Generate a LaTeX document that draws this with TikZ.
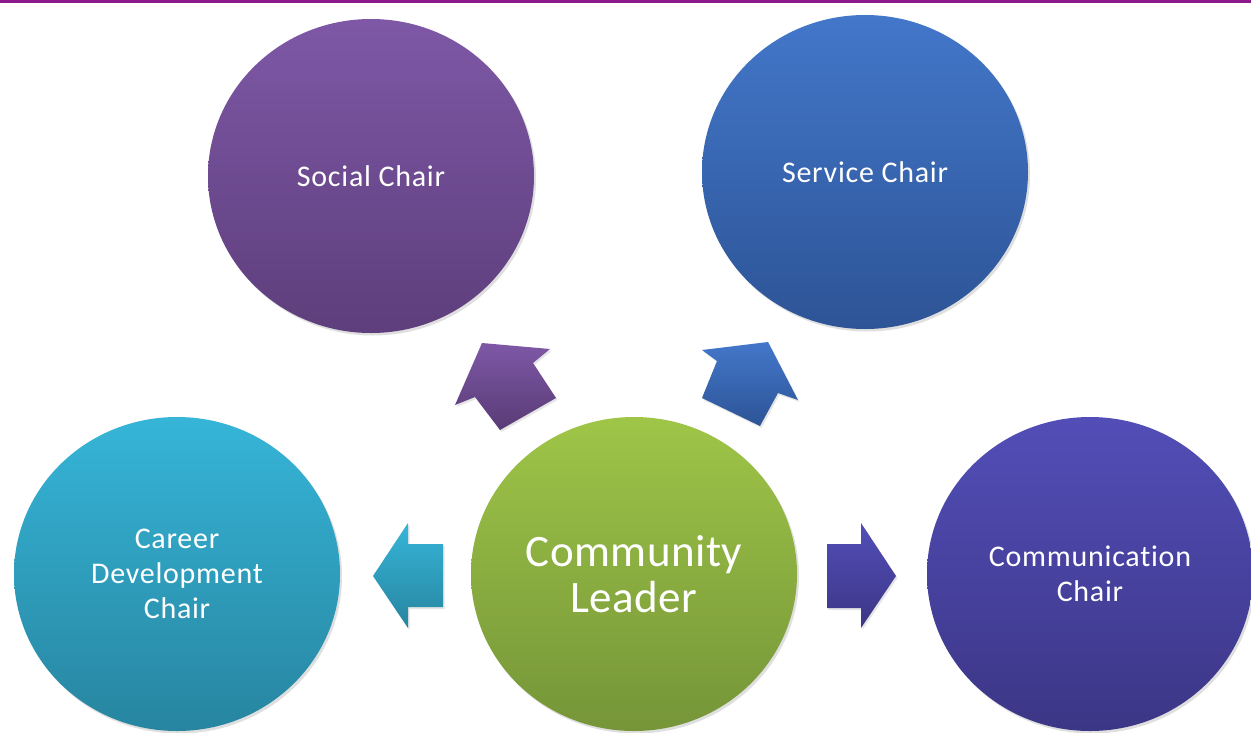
\documentclass[tikz,border=0pt]{standalone}
\usepackage{fontspec}
\usetikzlibrary{shapes.geometric,shadows}
\newfontfamily\lblfont[LetterSpace=2.5,Ligatures=NoCommon]{Carlito}
\newfontfamily\bigfont[LetterSpace=1,Ligatures=NoCommon]{Carlito}
\definecolor{topline}{RGB}{140,26,140}
\definecolor{socT}{RGB}{126,88,166}\definecolor{socB}{RGB}{94,62,124}
\definecolor{serT}{RGB}{67,119,202}\definecolor{serB}{RGB}{45,84,150}
\definecolor{carT}{RGB}{54,181,216}\definecolor{carB}{RGB}{39,133,160}
\definecolor{comT}{RGB}{159,197,72}\definecolor{comB}{RGB}{117,149,56}
\definecolor{cmnT}{RGB}{82,78,183}\definecolor{cmnB}{RGB}{60,54,134}
\tikzset{
  x=1pt,y=-1pt,
  circ/.style={ellipse, minimum width=326pt, minimum height=314pt, inner sep=0pt,
    align=center, text=white, font=\lblfont\fontsize{30}{35}\selectfont,
    drop shadow={shadow xshift=2pt,shadow yshift=-2.5pt,opacity=0.25}},
  blockarrow/.style={draw=none,
    drop shadow={shadow xshift=1.5pt,shadow yshift=-2pt,opacity=0.2}},
}
\begin{document}
\begin{tikzpicture}
\useasboundingbox (0,0) rectangle (1251,732);
\fill[white] (0,0) rectangle (1251,732);
\coordinate (lineL) at (0,1.5);
\coordinate (lineR) at (1251,1.5);
\draw[line width=2.5pt, topline] (lineL) -- (lineR);

\node[circ, top color=socT, bottom color=socB] (social) at (371,176) {Social Chair};
\node[circ, top color=serT, bottom color=serB] (service) at (865,172) {Service Chair};
\node[circ, top color=carT, bottom color=carB] (career) at (177,574) {Career\\Development\\Chair};
\node[circ, top color=comT, bottom color=comB, font=\bigfont\fontsize{45}{46}\selectfont] (leader) at (634,574) {Community\\Leader};
\node[circ, top color=cmnT, bottom color=cmnB] (comm) at (1090,574) {Communication\\Chair};

% block arrows
\path[blockarrow, top color=socT, bottom color=socB!95!black]
  (482,343) -- (550,349) -- (533,363) -- (556,398) -- (500,430) -- (475,397) -- (455,405) -- cycle;
\path[blockarrow, top color=serT, bottom color=serB]
  (768,342) -- (798,400) -- (778,393) -- (760,426) -- (702,398) -- (717,361) -- (702,350) -- cycle;
\path[blockarrow, top color=carT, bottom color=carB]
  (373,576) -- (408,523) -- (408,544) -- (443,544) -- (443,607) -- (408,607) -- (408,628) -- cycle;
\path[blockarrow, top color=cmnT, bottom color=cmnB]
  (896,576) -- (861,628) -- (861,608) -- (827,608) -- (827,544) -- (861,544) -- (861,523) -- cycle;
\end{tikzpicture}
\end{document}
